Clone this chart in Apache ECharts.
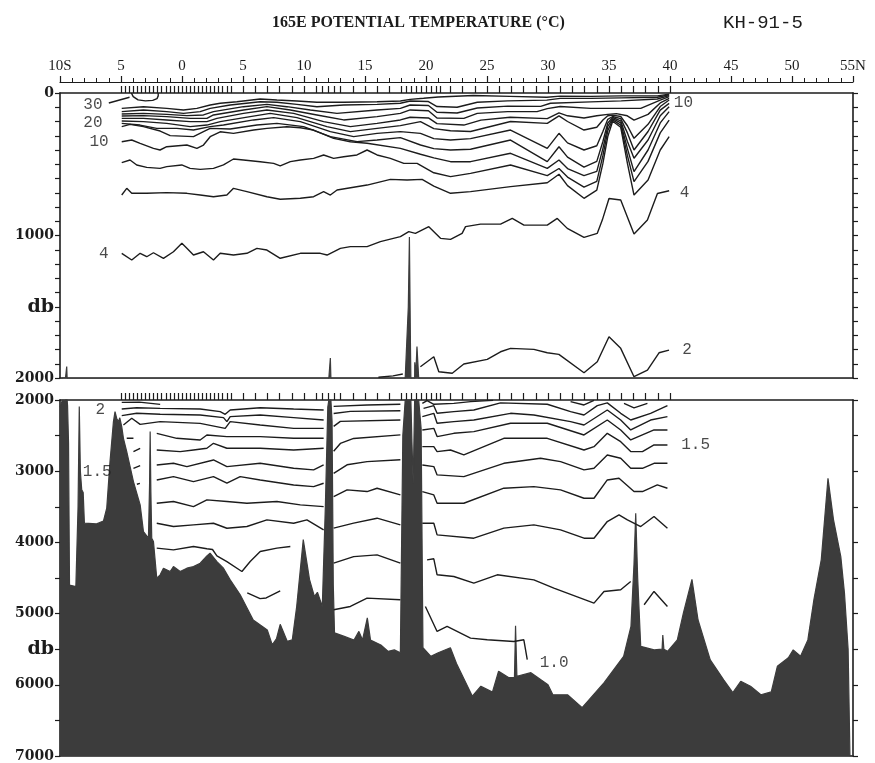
<!DOCTYPE html>
<html>
<head>
<meta charset="utf-8">
<script src="https://cdn.jsdelivr.net/npm/echarts@6/dist/echarts.min.js"></script>
<style>
  html, body { margin: 0; background: #fff; }
  #chart { width: 875px; height: 763px; }
</style>
</head>
<body>
<div id="chart"></div>
<script>
// station positions (latitude, S negative) - ticks above each panel
const stationLat = [-5, -4.67, -4.33, -4, -3.67, -3.33, -3, -2.67, -2.33, -2, -1.67, -1.33, -1, -0.67, -0.33, 0,
  0.33, 0.67, 1, 1.33, 1.67, 2, 2.33, 2.67, 3, 3.33, 3.67, 4, 5, 6, 7, 8, 9, 10, 11, 11.5, 12, 12.5, 13,
  14, 15, 16, 17, 18, 18.4, 18.8, 19.2, 19.6, 20, 20.4, 20.8, 21.2, 22, 23, 24, 25, 26, 27, 28, 29, 30,
  31, 32, 33, 34, 35, 36, 37, 38, 39, 40];

// bottom profile [lat, db]
const seafloor = [
  [-10,2100],[-9.8,2000],[-9.55,2000],[-9.45,1920],[-9.38,2080],[-9.3,2600],[-9.22,4600],[-8.7,4620],
  [-8.52,3500],[-8.42,2090],[-8.33,3000],[-8.22,3260],[-8.1,3300],[-8.0,3730],[-7.0,3740],[-6.44,3700],
  [-6.17,3520],[-5.9,2865],[-5.62,2304],[-5.49,2164],[-5.35,2260],[-5.21,2304],[-5.1,2250],[-4.94,2374],
  [-4.8,2538],[-4.53,2725],[-3.98,3146],[-3.43,3473],[-3.16,3848],[-2.75,3941],[-2.66,3200],[-2.61,2444],
  [-2.55,3300],[-2.48,3941],[-2.34,3988],[-2.07,4502],[-1.79,4456],[-1.52,4362],[-0.97,4409],[-0.7,4339],
  [-0.15,4409],[0.4,4362],[0.94,4339],[1.49,4292],[2.04,4190],[2.3,4150],[2.86,4269],[3.4,4362],[3.95,4526],
  [4.77,4736],[5.84,5090],[6.99,5230],[7.4,5440],[7.75,5350],[8.05,5150],[8.63,5390],[9.04,5370],[9.4,4900],
  [9.94,3960],[10.45,4520],[10.85,4760],[11.1,4700],[11.5,4900],[11.75,3500],[11.95,2100],[12.16,1860],
  [12.3,2300],[12.4,4600],[12.5,5270],[13.3,5320],[14.1,5370],[14.5,5250],[14.8,5370],[15.19,5060],
  [15.45,5370],[16.3,5440],[16.9,5530],[17.4,5510],[17.9,5550],[18.1,2500],[18.3,1990],[18.55,1500],
  [18.64,1010],[18.73,1800],[18.85,2600],[18.95,3170],[19.08,1890],[19.15,2000],[19.26,1780],[19.4,2000],
  [19.6,2400],[19.75,5480],[20.4,5600],[21.0,5550],[22.0,5480],[22.5,5700],[23.8,6160],[24.5,6020],
  [25.45,6100],[25.95,5810],[26.8,5900],[27.25,5900],[27.34,5170],[27.45,5880],[28.6,5830],[30.0,6000],
  [30.4,6140],[31.6,6140],[32.8,6320],[34.6,5970],[36.2,5600],[36.8,5180],[37.05,4300],[37.19,3590],
  [37.35,4500],[37.6,5460],[38.7,5510],[39.35,5500],[39.41,5300],[39.5,5500],[39.8,5530],[40.6,5370],
  [41.1,4990],[41.8,4520],[42.3,5090],[43.3,5650],[44.4,5930],[45.15,6110],[45.8,5950],[46.6,6020],
  [47.45,6140],[48.3,6100],[48.8,5740],[49.7,5620],[50.1,5510],[50.7,5600],[51.3,5370],[51.8,4800],
  [52.4,4240],[52.95,3100],[53.4,3680],[54.0,4200],[54.3,4710],[54.6,5500],[54.75,7000],[55,7000]
];

// upper panel isotherms (0-2000 db)
const t30 = [[-4.15,0],[-4.0,25],[-3.6,48],[-3.0,55],[-2.4,52],[-2.05,40],[-1.95,20],[-1.95,0]];
const t26 = [[-4.94,108],[-3.16,96],[-1.25,108],[0.12,119],[1.22,108],[2.31,84],[3.13,72],[4.5,61],[6.41,42],
  [7.78,49],[9.42,56],[11.06,65],[13.25,65],[15.99,61],[17.9,56],[18.7,45],[19.8,37],[21,28],[23.9,18],
  [26.9,24],[29.9,30],[31,22],[33.5,24],[36,20],[38.97,20],[39.93,8]];
const t24 = [[-4.94,131],[-3.16,119],[-1.25,131],[0.12,143],[1.49,131],[2.31,108],[3.95,84],[6.41,61],[7.78,65],
  [9.42,80],[11.06,96],[13.25,84],[15.99,80],[17.9,72],[18.7,56],[20.2,60],[20.9,95],[22.55,100],[24.2,65],
  [26.7,55],[29.9,50],[31,38],[33.5,38],[36,34],[38.97,30],[39.93,12]];
const t22 = [[-4.94,147],[-3.16,143],[-1.25,150],[0.4,159],[1.76,154],[2.58,131],[5.04,96],[6.96,80],[8.6,96],
  [10.52,119],[12.7,143],[15.99,119],[17.9,108],[18.7,84],[20.2,88],[20.9,135],[22.55,140],[24.2,105],
  [26.7,92],[29.4,94],[30.2,72],[33.5,62],[36,55],[38.97,42],[39.93,18]];
const t20 = [[-4.94,161],[-3.16,159],[-1.25,166],[0.67,178],[2.04,178],[2.58,154],[5.04,119],[6.96,96],[8.88,119],
  [11.06,154],[13.25,189],[15.99,166],[17.9,143],[18.7,119],[20.2,125],[20.9,175],[23.1,178],[24.2,143],
  [26.7,131],[29.1,131],[29.94,110],[31,95],[33.5,108],[37.6,108],[39.2,50],[39.93,26]];
const t18 = [[-4.94,178],[-3.16,178],[-1.25,189],[0.67,201],[2.04,201],[2.86,178],[5.04,143],[6.96,119],[9.15,143],
  [11.61,201],[13.8,236],[15.99,213],[17.9,189],[18.7,170],[20.2,175],[20.9,215],[23.1,225],[24.5,190],
  [26.9,170],[29.94,180],[30.9,140],[31.6,160],[32.95,175],[34.0,160],[34.9,150],[35.6,145],[36.5,160],
  [37.05,190],[38.2,150],[39.2,70],[39.93,38]];
const t16 = [[-4.94,196],[-3.16,201],[-1.25,213],[0.67,236],[2.04,225],[3.13,201],[5.59,166],[7.23,143],[9.42,173],
  [11.88,236],[13.8,271],[15.99,248],[17.9,229],[19.55,201],[20.64,250],[22.01,265],[23.65,270],[26.93,200],
  [29.94,213],[30.9,160],[31.6,200],[32.95,260],[34.0,240],[34.5,190],[34.9,160],[35.3,155],[35.96,165],
  [36.51,230],[37.05,318],[38.2,220],[39.2,95],[39.93,49]];
const t14 = [[-4.94,213],[-3.44,225],[-2.07,248],[-0.43,248],[0.94,260],[2.31,236],[3.4,225],[5.87,189],[7.51,173],
  [9.7,201],[12.16,271],[14.07,306],[15.99,283],[17.9,271],[19.55,283],[20.64,320],[22.01,330],[23.65,320],
  [26.93,260],[29.94,389],[30.9,283],[31.6,350],[32.95,400],[34.0,370],[34.5,270],[34.9,185],[35.3,165],
  [35.96,180],[36.51,280],[37.05,400],[38.2,270],[39.2,120],[39.93,73]];
const t12 = [[-4.94,236],[-4.26,220],[-3.16,236],[-1.79,267],[-0.97,299],[0.94,306],[1.76,271],[2.31,248],[3.95,253],
  [6.14,225],[7.78,213],[9.97,236],[12.16,306],[14.35,341],[15.99,330],[17.9,313],[19.55,365],[20.64,390],
  [22.01,400],[23.65,395],[26.93,330],[29.94,482],[30.9,377],[31.6,450],[32.95,520],[34.0,480],[34.5,340],
  [34.9,210],[35.3,172],[35.96,195],[36.51,340],[37.05,458],[38.2,330],[39.2,160],[39.93,96]];
const t10 = [[-4.94,342],[-4.12,330],[-3.43,353],[-2.34,389],[-1.8,400],[-1.25,377],[0.4,365],[1.22,389],[1.76,365],
  [2.31,307],[3.13,272],[4.22,283],[5.87,260],[6.96,248],[8.6,237],[9.7,244],[10.79,260],[12.43,318],
  [13.8,342],[15.17,353],[17.9,389],[19.55,430],[20.64,455],[22.01,482],[23.65,482],[26.93,423],[29.94,529],
  [30.9,470],[31.6,530],[32.95,580],[34.0,550],[34.5,390],[34.9,235],[35.3,180],[35.96,210],[36.51,390],
  [37.05,552],[38.2,400],[39.2,210],[39.93,131]];
const t8 = [[-4.94,489],[-4.26,470],[-3.71,505],[-2.89,522],[-1.8,529],[-1.25,517],[-0.02,505],[0.66,529],[1.49,536],
  [2.58,529],[3.4,505],[4.22,463],[5.04,470],[6.41,482],[7.51,494],[8.05,512],[8.88,482],[9.7,470],[10.79,459],
  [11.61,435],[12.43,459],[13.25,447],[14.34,435],[15.17,400],[15.99,435],[17.08,459],[18.18,494],[19.27,494],
  [20.64,560],[22.01,587],[23.65,564],[26.93,505],[29.94,580],[30.9,530],[31.6,590],[32.95,660],[34.0,620],
  [34.5,440],[34.9,265],[35.3,188],[35.96,225],[36.51,440],[37.05,622],[38.2,480],[39.2,280],[39.93,190]];
const t6 = [[-4.94,716],[-4.53,669],[-4.12,704],[-2.89,704],[-1.25,699],[0.4,704],[1.49,716],[2.58,728],[3.68,716],
  [4.22,669],[5.32,692],[6.96,728],[8.05,746],[9.7,739],[10.79,728],[11.61,692],[12.16,716],[12.71,681],
  [15.17,646],[17.08,606],[18.45,611],[19.68,606],[20.64,653],[22.01,704],[23.65,692],[26.93,657],[29.94,630],
  [30.9,570],[31.6,650],[32.95,739],[34.0,681],[34.5,494],[34.9,306],[35.3,198],[35.96,240],[36.51,494],
  [37.05,716],[38.2,611],[39.2,400],[39.93,306]];
const t4 = [[-4.94,1125],[-4.12,1172],[-3.43,1125],[-2.89,1149],[-2.34,1121],[-1.52,1160],[-0.7,1114],[-0.01,1055],
  [0.4,1090],[0.94,1137],[1.76,1114],[2.58,1172],[3.13,1125],[4.22,1137],[5.32,1125],[6.14,1090],[6.96,1102],
  [8.05,1160],[9.7,1125],[11.34,1125],[11.89,1137],[12.98,1090],[13.8,1078],[15.17,1078],[16.26,1043],
  [17.9,1008],[18.59,973],[19.13,985],[20.23,938],[21.19,1020],[22.01,1027],[22.96,985],[23.24,938],
  [24.47,920],[26.11,920],[27.07,880],[28.03,927],[29.94,927],[30.76,880],[31.58,950],[32.95,1013],
  [34.04,985],[34.45,892],[35.0,740],[35.96,751],[37.05,990],[38.15,892],[38.97,705],[39.93,686]];
const t2 = [[16.1,1995],[17.3,1985],[18.1,1972],[18.5,null],[19.54,1921],[20.64,1851],[21.05,1956],[22.15,1967],
  [23.1,1902],[25.02,1869],[26.11,1816],[26.93,1792],[28.84,1799],[29.94,1823],[30.89,1834],[32.95,1963],
  [34.04,1886],[35.0,1710],[35.96,1792],[37.05,1991],[38.15,1944],[39.1,1823],[39.92,1804]];
const leader30 = [[-6.0,70],[-4.3,30]];

// lower panel isotherms (2000-7000 db)
const d20 = [[-4.94,2033],[-3.5,2030],[-1.79,2061]];
const d19 = [[-4.94,2126],[-3.71,2108],[-1.79,2117],[1.49,2126],[3.13,2164],[3.54,2201],[3.95,2140],[6.41,2108],
  [9.15,2126],[11.61,2140],[12,null],[12.43,2090],[15.17,2070],[17.9,2060],[18.5,null],[19.7,2047],[20.09,2010],
  [20.64,2060],[22.28,2047],[23.65,2023],[25.5,2005],[28,null],[31.85,2023],[32.95,2070],[33.77,2005],[35,null],
  [36.23,2047],[37.05,2110],[38.15,2047]];
const d18 = [[-4.94,2220],[-3.71,2187],[-1.79,2201],[1.49,2211],[3.4,2248],[3.68,2304],[3.95,2234],[6.41,2211],
  [9.15,2248],[11.61,2281],[12,null],[12.43,2190],[13.8,2160],[17.9,2150],[18.5,null],[19.8,2117],[20.64,2080],
  [20.91,2187],[22.28,2164],[23.92,2140],[26.11,2040],[29.94,2060],[31.85,2164],[32.95,2210],[34.04,2080],
  [34.86,2040],[35.96,2187],[36.78,2281],[38.41,2187],[39.79,2080]];
const d17 = [[-4.8,2351],[-4.12,2257],[-3.43,2342],[-1.79,2304],[1.49,2328],[3.54,2398],[3.95,2304],[6.41,2351],
  [9.15,2398],[11.61,2398],[12,null],[12.43,2370],[12.98,2300],[17.9,2280],[18.5,null],[19.7,2234],[20.64,2187],
  [20.91,2327],[22.28,2304],[23.92,2281],[26.93,2187],[28.84,2210],[31.85,2304],[32.95,2351],[34.86,2140],
  [35.96,2281],[36.78,2421],[38.41,2281],[39.79,2234]];
const d16 = [[-4.53,2538],[-3.98,2538],[-3.6,null],[-2.07,2468],[-0.43,2538],[1.49,2561],[2.04,2491],[3.68,2515],
  [6.41,2515],[9.15,2538],[11.61,2538],[12,null],[12.43,2720],[12.98,2610],[14.07,2540],[17.9,2490],[18.5,null],
  [19.7,2421],[20.64,2398],[20.91,2514],[22.28,2468],[23.92,2444],[26.93,2327],[29.94,2327],[32.95,2491],
  [34.86,2281],[35.96,2421],[36.78,2561],[38.69,2421],[39.79,2421]];
const d15 = [[-3.98,2725],[-3.43,2678],[-3.2,null],[-2.07,2702],[-0.15,2725],[0.94,2702],[2.04,2678],[2.58,2608],
  [3.68,2678],[6.41,2678],[9.15,2702],[11.61,2678],[12,null],[12.43,3030],[13.53,2910],[15.17,2866],[17.9,2840],
  [18.5,null],[19.7,2655],[20.64,2655],[20.91,2725],[22.01,2702],[23.1,2772],[26.38,2538],[29.94,2538],
  [32.95,2702],[33.77,2655],[34.86,2468],[35.96,2585],[36.78,2725],[37.74,2725],[38.69,2631],[39.79,2631]];
const d14 = [[-3.98,2959],[-3.43,2921],[-3.2,null],[-2.07,2912],[-0.7,2889],[0.4,2936],[2.58,2842],[3.68,2936],
  [6.41,2889],[9.15,2959],[10.79,2982],[11.61,2912],[12,null],[12.43,3356],[13.53,3263],[15.17,3286],
  [15.99,3240],[17.9,3333],[18.5,null],[19.7,2912],[20.64,2935],[20.91,3052],[23.1,3076],[26.38,2889],
  [29.39,2818],[31.03,2865],[32.95,2982],[33.77,2959],[34.86,2772],[35.96,2818],[36.78,2959],[37.74,2959],
  [38.69,2889],[39.79,2889]];
const d13 = [[-3.7,3183],[-3.45,3170],[-3.3,null],[-2.07,3123],[-0.7,3076],[0.94,3146],[2.58,3076],[3.68,3169],
  [4.77,3076],[6.41,3123],[9.15,3193],[10.79,3216],[11.61,3169],[12,null],[12.43,3800],[14.07,3730],
  [15.99,3660],[17.9,3754],[18.5,null],[19.7,3286],[20.64,3333],[20.91,3450],[23.1,3450],[26.38,3239],
  [28.84,3216],[31.03,3263],[32.95,3380],[33.77,3380],[34.86,3123],[35.82,3099],[37.05,3286],[37.74,3286],
  [38.96,3193],[39.79,3239]];
const d12 = [[-2.07,3450],[-0.7,3426],[0.94,3497],[2.04,3403],[3.68,3426],[5.32,3450],[7.78,3426],[9.7,3473],
  [11.61,3497],[12,null],[12.43,4292],[14.07,4200],[15.99,4175],[17.9,4292],[18.5,null],[19.7,3731],
  [20.64,3731],[20.91,3894],[23.92,3941],[26.38,3800],[28.84,3754],[31.03,3824],[32.95,3941],[33.77,3941],
  [34.86,3707],[35.82,3613],[36.51,3684],[37.6,3777],[38.69,3637],[39.79,3800]];
const d11 = [[-2.07,3731],[-0.7,3777],[0.94,3754],[2.58,3731],[3.68,3801],[5.32,3777],[6.96,3684],[9.15,3731],
  [10.24,3684],[11.61,3824],[12,null],[12.43,4946],[13.8,4900],[15.17,4783],[17.9,4806],[18.5,null],
  [20.09,4245],[20.64,4230],[20.91,4455],[22.28,4479],[23.92,4572],[25.84,4455],[28.84,4526],[30.48,4643],
  [33.77,4853],[34.59,4689],[35.96,4666],[36.78,4549],[36.9,null],[37.88,4876],[38.69,4689],[39.79,4900]];
const d10 = [[-2.07,4081],[-0.7,4105],[0.94,4058],[2.04,4090],[2.5,4100],[2.86,4190],[3.68,4269],[4.91,4409],
  [5.59,4269],[6.41,4128],[7.78,4081],[8.88,4058],[9.3,null],[19.95,4900],[20.91,5251],[21.73,5180],
  [23.65,5344],[25.02,5368],[27.2,5391],[28.02,5368],[28.3,5648]];
const d10b = [[5.35,4710],[6.4,4790],[6.9,4780],[8.05,4680]];

// contour labels [lat, db, text]
const upperLabels = [[-7.3,82,'30'],[-7.3,212,'20'],[-6.8,345,'10'],[-6.4,1125,'4'],
  [41.1,72,'10'],[41.2,702,'4'],[41.4,1800,'2']];
const lowerLabels = [[-6.7,2140,'2'],[-6.95,3010,'1.5'],[42.1,2630,'1.5'],[30.5,5690,'1.0']];

const upperLines = [t30, t26, t24, t22, t20, t18, t16, t14, t12, t10, t8, t6, t4, t2, leader30];
const lowerLines = [d20, d19, d18, d17, d16, d15, d14, d13, d12, d11, d10, d10b];

const ink = '#1c1c1c';
const rock = '#3c3c3c';

var chart = echarts.init(document.getElementById('chart'));

function isoSeries(data, lower) {
  return {
    type: 'line', data: data,
    xAxisIndex: lower ? 3 : 0, yAxisIndex: lower ? 2 : 0,
    symbol: 'none', silent: true, z: 4,
    lineStyle: { color: ink, width: 1.4 }
  };
}

function floorSeries(lower) {
  return {
    type: 'line', data: seafloor,
    xAxisIndex: lower ? 3 : 0, yAxisIndex: lower ? 2 : 0,
    symbol: 'none', silent: true, z: 2,
    lineStyle: { color: rock, width: 1.2 },
    areaStyle: { color: rock, opacity: 1, origin: 'end' }
  };
}

function labelSeries(data, lower) {
  return {
    type: 'scatter', data: data,
    xAxisIndex: lower ? 3 : 0, yAxisIndex: lower ? 2 : 0,
    symbolSize: 1, itemStyle: { color: 'rgba(0,0,0,0)' }, silent: true, z: 5,
    label: {
      show: true, position: 'inside', formatter: p => p.value[2],
      fontFamily: 'Liberation Mono', fontSize: 16, color: ink
    }
  };
}

const lineX = { show: true, onZero: false, lineStyle: { color: ink, width: 1.6 } };
const yLabel = {
  fontFamily: 'DejaVu Serif', fontWeight: 'bold', fontSize: 14, color: ink, margin: 6,
  rich: { db: { fontFamily: 'DejaVu Serif', fontWeight: 'bold', fontSize: 19, color: ink } }
};

function xAxisBase(grid, pos) {
  return {
    type: 'value', gridIndex: grid, position: pos, min: -10, max: 55,
    axisLine: lineX, axisTick: { show: false }, axisLabel: { show: false }, splitLine: { show: false }
  };
}

chart.setOption({
  animation: false,
  backgroundColor: '#fff',
  grid: [
    { left: 60, right: 22, top: 93, height: 285 },
    { left: 60, right: 22, top: 400, height: 356 }
  ],
  xAxis: [
    Object.assign(xAxisBase(0, 'top'), {
      axisTick: { show: true, customValues: stationLat, length: 7, lineStyle: { color: ink, width: 1.2 } }
    }),
    Object.assign(xAxisBase(0, 'top'), {
      offset: 11, interval: 5,
      axisLine: { show: true, onZero: false, lineStyle: { color: ink, width: 1.2 } },
      axisTick: { show: true, length: 6, lineStyle: { color: ink, width: 1.2 } },
      minorTick: { show: true, splitNumber: 5, length: 4, lineStyle: { color: ink, width: 1 } },
      axisLabel: {
        show: true, margin: 8, fontFamily: 'Liberation Serif', fontSize: 15, color: ink,
        formatter: v => v === -10 ? '10S' : v === 55 ? '55N' : String(Math.abs(v))
      }
    }),
    xAxisBase(0, 'bottom'),
    Object.assign(xAxisBase(1, 'top'), {
      axisTick: { show: true, customValues: stationLat, length: 7, lineStyle: { color: ink, width: 1.2 } }
    }),
    xAxisBase(1, 'bottom')
  ],
  yAxis: [
    {
      type: 'value', gridIndex: 0, position: 'left', inverse: true, min: 0, max: 2000, interval: 100,
      axisLine: lineX, splitLine: { show: false },
      axisTick: { show: true, length: 5, lineStyle: { color: ink, width: 1.2 } },
      axisLabel: Object.assign({ customValues: [0, 1000, 1500, 2000],
        formatter: v => v === 1500 ? '{db|db}' : String(v) }, yLabel)
    },
    {
      type: 'value', gridIndex: 0, position: 'right', inverse: true, min: 0, max: 2000, interval: 100,
      axisLine: lineX, splitLine: { show: false }, axisLabel: { show: false },
      axisTick: { show: true, length: 5, lineStyle: { color: ink, width: 1.2 } }
    },
    {
      type: 'value', gridIndex: 1, position: 'left', inverse: true, min: 2000, max: 7000, interval: 500,
      axisLine: lineX, splitLine: { show: false },
      axisTick: { show: true, length: 5, lineStyle: { color: ink, width: 1.2 } },
      axisLabel: Object.assign({ customValues: [2000, 3000, 4000, 5000, 5500, 6000, 7000],
        formatter: v => v === 5500 ? '{db|db}' : String(v) }, yLabel)
    },
    {
      type: 'value', gridIndex: 1, position: 'right', inverse: true, min: 2000, max: 7000, interval: 500,
      axisLine: lineX, splitLine: { show: false }, axisLabel: { show: false },
      axisTick: { show: true, length: 5, lineStyle: { color: ink, width: 1.2 } }
    }
  ],
  graphic: [
    { type: 'text', left: 272, top: 15,
      style: { text: '165E POTENTIAL TEMPERATURE (\u00B0C)', font: 'bold 16px "Liberation Serif"', fill: ink } },
    { type: 'text', left: 723, top: 13,
      style: { text: 'KH-91-5', font: '19px "Liberation Mono"', fill: ink } }
  ],
  series: [floorSeries(false), floorSeries(true)]
    .concat(upperLines.map(d => isoSeries(d, false)))
    .concat(lowerLines.map(d => isoSeries(d, true)))
    .concat([labelSeries(upperLabels, false), labelSeries(lowerLabels, true)])
});

window.addEventListener('resize', () => chart.resize());
</script>
</body>
</html>
